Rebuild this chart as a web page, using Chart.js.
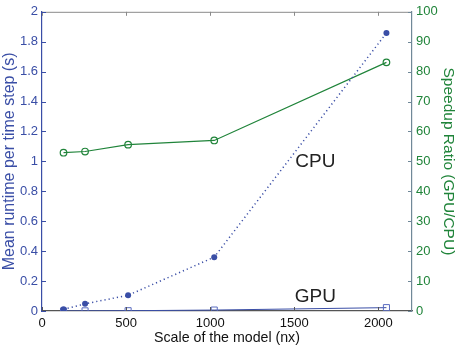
<!DOCTYPE html>
<html>
<head>
<meta charset="utf-8">
<script src="https://cdn.jsdelivr.net/npm/chart.js@4.4.0/dist/chart.umd.min.js"></script>
<style>
    html, body { margin: 0; padding: 0; background: #fff; }
    #wrap { width: 458px; height: 347px; }
</style>
</head>
<body>
<div id="wrap"><canvas id="chart"></canvas></div>
<script>
// model scale (nx)
const modelScale = [128, 256, 512, 1024, 2048];
// mean runtime per time step (s)
const cpuRuntime = [0.011, 0.048, 0.105, 0.36, 1.858];
const gpuRuntime = [0.0002, 0.0009, 0.0019, 0.0063, 0.0224];
// speedup ratio
const speedup = [52.9, 53.3, 55.6, 57.0, 83.1];

const xTicks = [0, 500, 1000, 1500, 2000];
const leftTicks = [0, 0.2, 0.4, 0.6, 0.8, 1, 1.2, 1.4, 1.6, 1.8, 2];
const rightTicks = [0, 10, 20, 30, 40, 50, 60, 70, 80, 90, 100];

const annotations = [
    { text: 'CPU', x: 1625, y: 1.0 },
    { text: 'GPU', x: 1625, y: 0.098 }
];

const BLUE = '#3a4ea6';
const GREEN = '#20843a';
const FONT = '"Liberation Sans", Arial, Helvetica, sans-serif';

function toPoints(xs, ys) {
    return xs.map((x, i) => ({ x: x, y: ys[i] }));
}

function fixedTicks(values) {
    return function(scale) {
        scale.ticks = values.map(v => ({ value: v }));
    };
}

// MATLAB style: ticks pointing inwards, plus a top border
const innerTicksPlugin = {
    id: 'innerTicks',
    afterDatasetsDraw(chart) {
        const ctx = chart.ctx;
        const area = chart.chartArea;
        const x = chart.scales.x, yl = chart.scales.y, yr = chart.scales.y2;
        const len = 4;
        ctx.save();
        ctx.lineWidth = 1;

        ctx.strokeStyle = '#8a8a8a';
        ctx.beginPath();
        ctx.moveTo(area.left, area.top + 0.5);
        ctx.lineTo(area.right, area.top + 0.5);
        ctx.stroke();

        xTicks.forEach(v => {
            let px = Math.round(x.getPixelForValue(v)) + 0.5;
            ctx.strokeStyle = '#555';
            ctx.beginPath();
            ctx.moveTo(px, area.bottom);
            ctx.lineTo(px, area.bottom - len);
            ctx.stroke();
            ctx.strokeStyle = '#8a8a8a';
            ctx.beginPath();
            ctx.moveTo(px, area.top);
            ctx.lineTo(px, area.top + len);
            ctx.stroke();
        });
        ctx.strokeStyle = BLUE;
        leftTicks.forEach(v => {
            let py = Math.round(yl.getPixelForValue(v)) + 0.5;
            ctx.beginPath();
            ctx.moveTo(area.left, py);
            ctx.lineTo(area.left + len, py);
            ctx.stroke();
        });
        ctx.strokeStyle = '#708898';
        rightTicks.forEach(v => {
            let py = Math.round(yr.getPixelForValue(v)) + 0.5;
            ctx.beginPath();
            ctx.moveTo(area.right, py);
            ctx.lineTo(area.right - len, py);
            ctx.stroke();
        });

        ctx.fillStyle = '#222';
        ctx.font = '19px ' + FONT;
        ctx.textAlign = 'center';
        ctx.textBaseline = 'middle';
        annotations.forEach(a => {
            ctx.fillText(a.text, x.getPixelForValue(a.x), yl.getPixelForValue(a.y));
        });
        ctx.restore();
    }
};

const ctx = document.getElementById('chart').getContext('2d');
window.chart = new Chart(ctx, {
    type: 'scatter',
    data: {
        datasets: [
            {
                label: 'CPU',
                data: toPoints(modelScale, cpuRuntime),
                yAxisID: 'y',
                showLine: true,
                borderColor: BLUE,
                backgroundColor: BLUE,
                borderWidth: 1.5,
                borderDash: [1.2, 3],
                pointStyle: 'circle',
                pointRadius: 3,
                pointBorderWidth: 0
            },
            {
                label: 'GPU',
                data: toPoints(modelScale, gpuRuntime),
                yAxisID: 'y',
                showLine: true,
                borderColor: BLUE,
                backgroundColor: 'rgba(0,0,0,0)',
                borderWidth: 1,
                pointStyle: 'rect',
                pointRadius: 4.3,
                pointBorderWidth: 1,
                pointBorderColor: '#5a6cc0'
            },
            {
                label: 'Speedup',
                data: toPoints(modelScale, speedup),
                yAxisID: 'y2',
                showLine: true,
                borderColor: GREEN,
                backgroundColor: 'rgba(0,0,0,0)',
                borderWidth: 1.2,
                pointStyle: 'circle',
                pointRadius: 3.3,
                pointBorderWidth: 1.2
            }
        ]
    },
    options: {
        responsive: true,
        maintainAspectRatio: false,
        animation: false,
        layout: { padding: { top: 5, left: 0, right: 0, bottom: 0 } },
        plugins: {
            legend: { display: false },
            tooltip: { enabled: false }
        },
        scales: {
            x: {
                type: 'linear',
                min: 0,
                max: 2200,
                afterBuildTicks: fixedTicks(xTicks),
                afterFit: scale => { scale.height = 36; },
                grid: { display: false, drawTicks: false },
                border: { display: true, color: '#555', width: 1.2 },
                ticks: {
                    color: '#111', font: { family: FONT, size: 13 }, padding: 5, maxRotation: 0,
                    callback: v => String(v)
                },
                title: {
                    display: true, text: 'Scale of the model (nx)', color: '#111',
                    font: { family: FONT, size: 14.2 }, padding: { top: 0, bottom: 0 }
                }
            },
            y: {
                type: 'linear',
                position: 'left',
                min: 0,
                max: 2,
                afterBuildTicks: fixedTicks(leftTicks),
                afterFit: scale => { scale.width = 42; },
                grid: { display: false, drawTicks: false },
                border: { display: true, color: BLUE, width: 1.2 },
                ticks: {
                    color: BLUE, font: { family: FONT, size: 13 }, padding: 4,
                    callback: v => String(Math.round(v * 10) / 10)
                },
                title: {
                    display: true, text: 'Mean runtime per time step (s)', color: BLUE,
                    font: { family: FONT, size: 16 }, padding: { top: 0, bottom: 0 }
                }
            },
            y2: {
                type: 'linear',
                position: 'right',
                min: 0,
                max: 100,
                afterBuildTicks: fixedTicks(rightTicks),
                afterFit: scale => { scale.width = 46; },
                grid: { display: false, drawTicks: false },
                border: { display: true, color: '#708898', width: 1.2 },
                ticks: { color: GREEN, font: { family: FONT, size: 13 }, padding: 4 },
                title: {
                    display: true, text: 'Speedup Ratio (GPU/CPU)', color: GREEN,
                    font: { family: FONT, size: 15.5 }, padding: { top: 0, bottom: 0 }
                }
            }
        }
    },
    plugins: [innerTicksPlugin]
});
</script>
</body>
</html>
